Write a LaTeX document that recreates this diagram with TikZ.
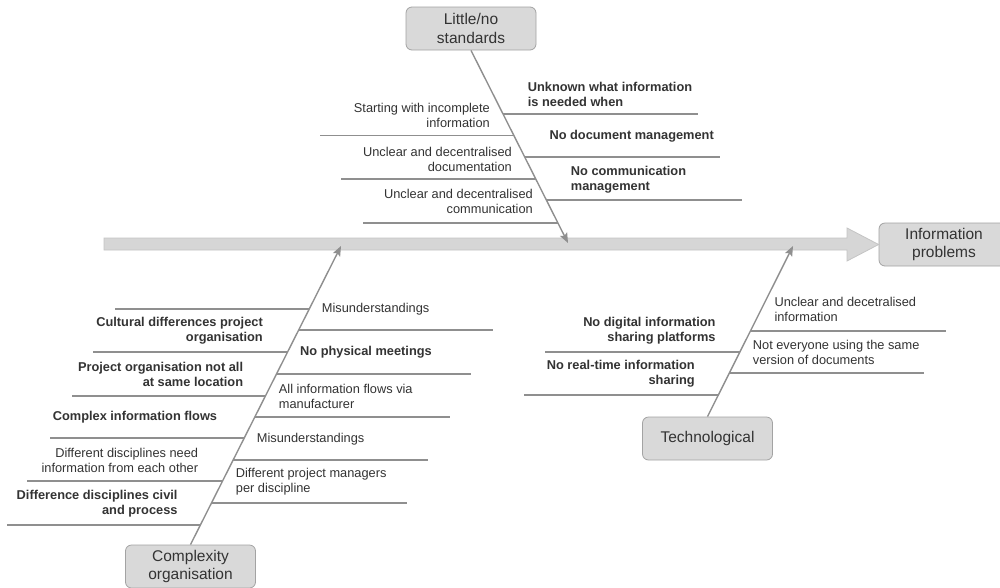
\documentclass[tikz,border=0pt]{standalone}
\usepackage{fontspec}
\setmainfont{Liberation Sans}
\usetikzlibrary{arrows.meta,calc}
\definecolor{boxfill}{HTML}{D9D9D9}
\definecolor{boxline}{HTML}{A3A3A3}
\definecolor{bonecol}{HTML}{8F8F8F}
\definecolor{txtcol}{HTML}{333333}
\definecolor{shaftfill}{HTML}{D6D6D6}
\definecolor{shaftline}{HTML}{C4C4C4}
\newcommand\mybranch[4]{%
  \coordinate (#1s) at (#2,#4);
  \coordinate (#1e) at (#3,#4);
  \draw[boneline] (#1s) -- (#1e);}
\begin{document}
\begin{tikzpicture}[x=1pt,y=-1pt,
  catbox/.style={draw=boxline, fill=boxfill, rounded corners=6pt,
    minimum width=130pt, minimum height=43pt, align=center,
    font=\fontsize{15.5}{18.5}\selectfont, text=txtcol, inner sep=0pt,
    line width=0.8pt},
  lbl/.style={inner sep=0pt, text=txtcol, font=\fontsize{12.8}{15}\selectfont},
  lblL/.style={lbl, anchor=east, align=right},
  lblR/.style={lbl, anchor=west, align=left},
  bld/.style={font=\fontsize{12.8}{15}\selectfont\bfseries},
  boneline/.style={draw=bonecol, line width=1.4pt},
  spine/.style={draw=bonecol, line width=1.4pt,
    -{Stealth[length=10pt,width=8pt,inset=2pt]}},
]
\useasboundingbox (0,0) rectangle (1000,587);
\clip (0,0) rectangle (1000,587);
\fill[white] (0,0) rectangle (1000,587);

% category boxes
\node[catbox] (lns) at (471,28.5) {Little/no\\standards};
\node[catbox] (ip) at (944,244.5) {Information\\problems};
\node[catbox] (cpx) at (190.5,566.5) {Complexity\\organisation};
\node[catbox] (tech) at (707.5,438.5) {Technological};

% main arrow
\coordinate (mstart) at (104,244);
\filldraw[fill=shaftfill, draw=shaftline, line width=0.8pt]
  ($(mstart)+(0,-6)$) -- (847,238) -- (847,228) -- (ip.west)
  -- (847,261) -- (847,250) -- ($(mstart)+(0,6)$) -- cycle;

% spines
\coordinate (tA) at (568,243);
\coordinate (tB) at (341,246);
\coordinate (tC) at (793,246);
\draw[spine] (lns.south) -- (tA);
\draw[spine] (cpx.north) -- (tB);
\draw[spine] (tech.north) -- (tC);

% top branches
\mybranch{a1}{514.1}{320}{135.7}
\mybranch{a2}{535.8}{341}{179}
\mybranch{a3}{558}{363}{223}
\mybranch{b1}{503.2}{698}{114}
\mybranch{b2}{524.8}{720}{157}
\mybranch{b3}{546.4}{742}{200}

\node[lblL] (ta1) at (490,115.5) {Starting with incomplete\\information};
\node[lblL] (ta2) at (512,159.5) {Unclear and decentralised\\documentation};
\node[lblL] (ta3) at (533,201.5) {Unclear and decentralised\\communication};
\node[lblR,bld] (tb1) at (527.7,94) {Unknown what information\\is needed when};
\node[lblR,bld] (tb2) at (549.3,136.7) {No document management};
\node[lblR,bld] (tb3) at (570.7,180) {No communication\\management};

% complexity branches (left)
\mybranch{c1}{309.3}{115}{309}
\mybranch{c2}{287.6}{93}{352}
\mybranch{c3}{265.5}{72}{396}
\mybranch{c4}{244.4}{50}{438}
\mybranch{c5}{222.7}{27}{481}
\mybranch{c6}{200.6}{7}{525}
% complexity branches (right)
\mybranch{d1}{298.7}{493}{330}
\mybranch{d2}{276.6}{471}{374}
\mybranch{d3}{254.9}{450}{417}
\mybranch{d4}{233.3}{428}{460}
\mybranch{d5}{211.6}{407}{503}

\node[lblL,bld] (tc1) at (263,330.5) {Cultural differences project\\organisation};
\node[lblL,bld] (tc2) at (243.3,374) {Project organisation not all\\at same location};
\node[lblL,bld] (tc3) at (217.3,416.7) {Complex information flows};
\node[lblL] (tc4) at (198.3,460) {Different disciplines need\\information from each other};
\node[lblL,bld] (tc5) at (177.7,503.5) {Difference disciplines civil\\and process};

\node[lblR] (td1) at (321.7,309.3) {Misunderstandings};
\node[lblR,bld] (td2) at (300,352.7) {No physical meetings};
\node[lblR] (td3) at (278.7,396) {All information flows via\\manufacturer};
\node[lblR] (td4) at (256.7,439) {Misunderstandings};
\node[lblR] (td5) at (235.7,482) {Different project managers\\per discipline};

% technological branches
\mybranch{e1}{740}{545}{352}
\mybranch{e2}{718.5}{524}{395}
\mybranch{f1}{750.5}{946}{331}
\mybranch{f2}{729.5}{924}{373}

\node[lblL,bld] (te1) at (715.7,331) {No digital information\\sharing platforms};
\node[lblL,bld] (te2) at (695,374) {No real-time information\\sharing};
\node[lblR] (tf1) at (774.3,309) {Unclear and decetralised\\information};
\node[lblR] (tf2) at (752.7,352.5) {Not everyone using the same\\version of documents};
\end{tikzpicture}
\end{document}
